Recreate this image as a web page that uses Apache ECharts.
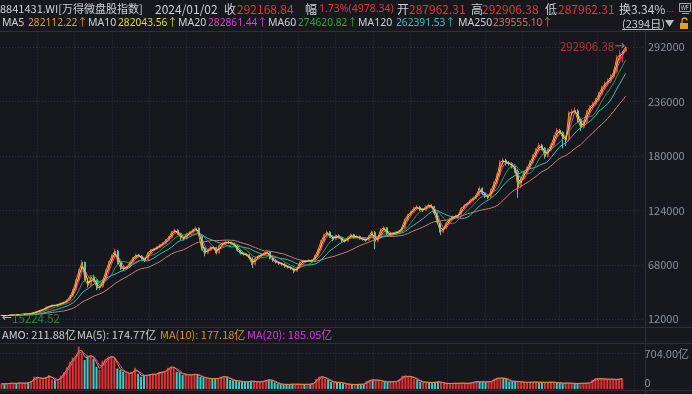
<!DOCTYPE html>
<html><head><meta charset="utf-8">
<script src="https://cdn.jsdelivr.net/npm/echarts@6/dist/echarts.min.js"></script>
<style>html,body{margin:0;padding:0;background:#16181d;}#c{width:692px;height:394px;}</style>
</head><body><div id="c"></div>
<script>
// ---- data (one candle ≈ 11 trading days of 8841431.WI) ----
const opens = [
15800,16000,15700,15900,16300,16600,16400,16900,17200,17600,
17400,18200,19000,20100,21300,22300,24400,25300,26500,26200,
27400,28500,29600,31700,35800,42600,52200,63000,70600,51200,
47200,55300,52100,44200,45300,52200,62800,70500,77200,82300,
71200,64600,64300,65700,70500,74900,78100,76800,74600,72800,
80200,83100,84200,86100,88200,90100,93200,96100,101900,103700,
100400,96300,95200,99600,101400,103500,105800,98600,85200,80100,
83200,86100,85800,80200,88100,90200,91300,91100,90200,88300,
83100,80200,79100,78200,74300,68300,75200,77100,78300,80100,
81200,75100,72600,70800,69500,68700,66500,65600,64400,61500,
64900,70600,71800,71600,72800,71600,77100,83800,92100,98400,
101800,97200,94100,98300,96200,93100,92400,96200,99100,96300,
97200,95100,94300,93200,97400,101500,92300,96200,104100,106300,
100200,99400,100300,101200,102400,106400,114200,119100,122200,126100,
127600,125100,124200,127700,129400,128100,121200,110600,101700,105800,
110900,115100,117200,118100,119200,126100,129200,131400,134600,136700,
140500,146800,141700,138600,137600,144800,152100,161000,173600,175700,
172600,172400,169500,164200,148100,157200,163100,167400,173600,179800,
186100,191200,188100,179800,186200,191100,199800,206600,204500,199100,
197400,224100,225200,226500,217200,209600,214800,225100,230200,233300,
237400,243600,249800,254100,257200,261300,267000,280700,284300,287962.31];
const closes = [
16000,15700,15900,16300,16600,16400,16900,17200,17600,17400,
18200,19200,20100,21300,22300,24400,25300,26500,26200,27400,
28500,29600,31700,35800,42100,52200,62300,70600,52400,47200,
55300,52100,44200,45300,52200,62100,70500,77200,82300,70400,
64600,64300,65700,70500,74900,78100,77200,74600,72800,80200,
83100,84200,86100,88200,90100,93200,96100,101500,103700,100400,
96300,95200,99600,101400,103500,105800,99400,85200,80100,83200,
86100,85800,80200,88100,90200,91300,91100,90200,88300,83100,
80200,79100,78200,75100,68300,75200,77100,78300,80100,81200,
75100,72600,70800,69500,68700,66500,65600,64400,61500,64600,
70600,71800,71600,72800,71600,77100,83200,92100,98400,101800,
97200,94100,98300,96200,93100,92400,96200,99100,96300,97200,
95100,94300,93200,97400,102100,92300,96200,104100,106300,100200,
99400,100300,101200,102400,105800,114200,119100,122200,126100,127600,
125100,124200,127700,129400,128100,121200,111800,101700,105800,110900,
115100,117200,118100,119200,126100,129200,131400,134600,136700,139700,
146800,141700,138600,137600,144800,152100,160200,173600,175700,172600,
172400,169500,165400,148100,157200,163100,167400,173600,179800,186100,
191200,188100,179800,186200,191100,199200,206600,204500,199100,196300,
224100,225200,227300,217200,209600,214800,225100,230200,233300,237400,
243600,249800,254100,257200,261300,266200,280700,284300,287190.5,292168.84];
const lows = [
15500,15224.52,15500,15700,16100,16000,16200,16700,17000,17000,
17200,18000,18900,19900,21000,22000,24000,25000,25600,25900,
27000,28100,29300,31400,35300,41600,51500,61000,50800,44800,
46500,50200,42000,41800,44600,51600,61200,69600,76100,68500,
62500,61800,63200,64900,69700,74000,75800,73200,71000,72100,
79400,82100,83300,85200,87100,89200,92100,95200,100300,99100,
93800,93100,94300,98500,100300,102400,98100,82900,76800,78900,
82100,84000,78800,79500,87000,89100,89700,88900,86900,81700,
78600,77600,76800,73600,64800,67400,74300,76000,77300,79000,
73600,71100,69500,68200,67300,65100,64200,63000,59400,60800,
64000,69800,70400,70900,70500,71000,76500,82500,91200,97300,
95800,92400,93200,95000,90800,91100,91500,95300,95100,95200,
93900,93000,91900,92400,96500,84000,91100,95400,103000,98800,
98000,98300,99300,100200,101600,105100,113200,118000,121200,124900,
123500,122400,123300,126600,126400,119600,109800,98600,100600,104900,
110000,114000,116000,116900,118400,125000,128000,130300,133400,135500,
138800,140000,136800,135600,136700,143800,151000,159200,171800,170500,
170200,167400,163000,137000,146800,156000,161800,166200,172400,178500,
184700,186000,177400,178600,185000,190000,198000,202300,188000,190500,
195200,221800,222900,214800,206000,208200,213600,223700,228500,231800,
236000,242100,248000,252000,255200,259800,265000,279000,276200,287962.31];
const highs = [
16300,16200,16200,16600,16900,16800,17200,17500,17900,17800,
18500,19500,20500,21700,22800,24900,25900,27000,27000,27900,
29100,30200,32300,36500,43200,53500,64000,73200,71400,54100,
57200,58000,53000,46900,53400,63300,72100,79000,84800,83400,
71300,66500,67400,71800,76200,79600,79300,78100,75400,81400,
84500,85600,87300,89600,91500,94600,97700,103000,105400,104600,
101200,97400,100800,102900,105100,107600,106700,100100,86300,84700,
87800,87500,86700,89300,91600,92800,92600,92000,91000,89100,
84000,81300,80100,79000,75900,76400,78300,79500,81300,82600,
82000,76000,73500,71700,70600,69500,67400,66300,65100,65500,
71700,72900,72800,73900,73600,78200,84500,93600,100100,103600,
102700,98100,99500,99300,97000,94200,97400,100400,100000,98500,
98100,96200,95100,98600,103500,103000,97500,105600,107800,107000,
101100,101500,102400,103600,107100,115600,120700,123800,127700,129400,
128500,126300,129100,131000,130300,128900,122000,112600,107100,112200,
116500,118700,119600,120700,127600,130800,133000,136300,138500,141600,
149000,147800,142600,139800,146400,153900,162200,176000,178200,177000,
174800,173600,170500,166300,158900,165000,169300,175600,182000,188300,
193600,192600,189100,188000,193000,201500,209000,208000,205500,200500,
226500,228300,230200,228300,218300,216900,227400,232600,235800,239900,
246200,252400,256900,260100,264300,269500,284000,289500,288600,292906.38];
// turnover amount, 亿
const amounts = [
105,98,112,118,108,115,122,110,118,125,
160,244,230,198,215,232,277,190,172,180,
265,330,430,540,620,660,838,706,574,660,
673,600,442,376,560,590,640,650,607,409,
380,343,310,300,343,420,300,244,277,270,
290,300,285,343,330,350,420,442,430,343,
330,277,290,270,285,300,277,240,224,210,
205,211,200,215,244,250,230,178,170,165,
150,145,140,150,160,145,138,145,150,178,
185,170,130,100,95,92,88,94,98,92,
96,90,94,92,98,120,200,244,250,200,
178,140,132,128,135,110,92,95,90,88,
95,92,100,160,178,185,170,178,150,145,
140,148,142,150,200,264,250,244,250,200,
178,140,132,135,128,132,135,145,125,112,
108,112,110,115,112,118,110,115,120,145,
150,140,145,138,145,160,205,224,211,215,
200,150,145,160,140,135,132,130,138,132,
140,128,135,130,132,138,130,125,118,112,
120,115,110,112,108,115,112,118,120,185,
211,200,205,195,190,198,192,185,200,211.88];
const priceTicks = {min: 12000, max: 292000, step: 56000};
const volTicks = {min: 0, max: 704};
const maNames = ['MA5','MA10','MA20','MA60','MA120','MA250'];
const maWindows = [1, 2, 3, 6, 11, 22];          // in candles
const maLegendValues = ['282112.22','282043.56','282861.44','274620.82','262391.53','239555.10'];
const volMaNames = ['MA(5)','MA(10)','MA(20)'];
const volMaLegendValues = ['174.77','177.18','185.05'];
const volMaWindows = [1, 2, 3];
const headerQuote = {code:'8841431.WI[万得微盘股指数]', date:'2024/01/02', close:'292168.84', chg:'1.73%(4978.34)',
  open:'287962.31', high:'292906.38', low:'287962.31', turn:'3.34%', amo:'211.88', days:'(2394日)'};

// ---- styling ----
const FONT = '"Noto Sans CJK SC","Noto Sans",sans-serif';
const FONTN = '"Noto Sans","Noto Sans CJK SC",sans-serif';
const BG = '#16181d';
const UP = '#e8302f', DOWN = '#3ecccc';
const maLineColors = ['#ee9a2a','#e4e42c','#e03ee0','#22a52a','#3dbdc4','#cc7a7a'];
const maTextColors = ['#e9982c','#dede2a','#dd3edd','#2aae2a','#3cc4c4','#de6a6e'];
const volMaColors = ['#d0d0d0','#e0921e','#d63fd6'];
const GRIDC = '#2c3038', LINEC = '#2e3138', LABELC = '#8d9199', TXT = '#cdd0d4', RED = '#dc3a3e';
const PAD = 6;

const cats = Array.from({length: closes.length + PAD}, (_, i) => String(i));
const ohlc = closes.map((c, i) => [opens[i], c, lows[i], highs[i]]);
function movingAverage(vals, win) {
  return vals.map((_, i) => {
    const s = Math.max(0, i - win + 1); let sum = 0;
    for (let j = s; j <= i; j++) sum += vals[j];
    return +(sum / (i - s + 1)).toFixed(2);
  });
}
const volData = amounts.map((v, i) => ({value: v, itemStyle: {color: closes[i] >= opens[i] ? UP : DOWN}}));
const hiMax = Math.max(...highs), hiIdx = highs.indexOf(hiMax);
const loMin = Math.min(...lows), loIdx = lows.indexOf(loMin);

function t(x, y, s, color, size, fam) {
  return {type: 'text', x: x, y: y, silent: true, z: 50,
    style: {text: s, fill: color, font: size + 'px ' + (fam || FONT), align: 'left', verticalAlign: 'middle',
            textAlign: 'left', textVerticalAlign: 'middle'}};
}
function hl(y, x1, x2) { return {type:'line', silent:true, shape:{x1:x1, y1:y, x2:x2, y2:y}, style:{stroke:LINEC, lineWidth:1}}; }

const graphics = [
  hl(31.5, 0, 692), hl(327.5, 0, 692), hl(343.5, 0, 692), hl(390.5, 0, 692),
  {type:'line', silent:true, shape:{x1:645.5, y1:31, x2:645.5, y2:394}, style:{stroke:LINEC, lineWidth:1}},
  t(0, 9, headerQuote.code, TXT, 11),
  t(155, 9, headerQuote.date, TXT, 12),
  t(224, 9, '收', TXT, 12), t(237, 9, headerQuote.close, RED, 12),
  t(305, 9, '幅', TXT, 12), t(319, 9, headerQuote.chg, RED, 10.5, FONTN),
  t(397, 9, '开', TXT, 12), t(409, 9, headerQuote.open, RED, 12),
  t(471, 9, '高', TXT, 12), t(482, 9, headerQuote.high, RED, 12),
  t(545, 9, '低', TXT, 12), t(558, 9, headerQuote.low, RED, 12),
  t(619, 9, '换', TXT, 12), t(631, 9, headerQuote.turn, TXT, 12), t(666, 8, '...', RED, 10),
  {type:'rect', silent:true, shape:{x:679.5, y:3.5, width:11, height:8}, style:{stroke:'#a8a8a8', fill:'none', lineWidth:1}},
  t(681, 7.6, 'WF', '#cfcfcf', 5.5),
  {type:'line', silent:true, shape:{x1:682, y1:13.5, x2:689, y2:13.5}, style:{stroke:'#a8a8a8', lineWidth:1}},
  t(622, 23.5, headerQuote.days, TXT, 11),
  {type:'line', silent:true, shape:{x1:622, y1:29.5, x2:662, y2:29.5}, style:{stroke:'#bdbdbd', lineWidth:1}},
  {type:'polygon', silent:true, shape:{points:[[665,20],[674,20],[669.5,27]]}, style:{fill:'#b8b8b8'}},
  {type:'rect', silent:true, shape:{x:680, y:23, width:8, height:6}, style:{fill:'#e8a020'}},
  {type:'arc', silent:true, shape:{cx:684.5, cy:20.5, r:2.5, startAngle:Math.PI, endAngle:2*Math.PI, clockwise:true}, style:{stroke:'#e8a020', fill:'none', lineWidth:1.3}},
  {type:'line', silent:true, shape:{x1:682, y1:20.5, x2:682, y2:23}, style:{stroke:'#e8a020', lineWidth:1.3}},
  t(2, 335, 'AMO: ' + headerQuote.amo + '亿', TXT, 11)
];
const maX = [[2,28],[88,118],[178,208],[268,298],[358,396],[458,493]];
maNames.forEach((n, k) => {
  graphics.push(t(maX[k][0], 23.5, n, TXT, 10.5, FONTN));
  graphics.push(t(maX[k][1], 23.5, maLegendValues[k] + '↑', maTextColors[k], 10.2, FONTN));
});
const volLegX = [77, 160, 247];
const volLegColors = [TXT, '#e0921e', '#d63fd6'];
volMaNames.forEach((n, k) => graphics.push(t(volLegX[k], 335, n + ': ' + volMaLegendValues[k] + '亿', volLegColors[k], 11)));

const vGrid = {type:'value', min:0, max:645, interval:37.3, axisLine:{show:false}, axisTick:{show:false}, axisLabel:{show:false},
  splitLine:{show:true, showMinLine:false, showMaxLine:false, lineStyle:{color:GRIDC, type:[1,2]}}};

const series = [{
  type:'candlestick', xAxisIndex:0, yAxisIndex:0, data:ohlc, barMaxWidth:2, clip:false, z:2,
  itemStyle:{color:UP, color0:DOWN, borderColor:UP, borderColor0:DOWN, borderWidth:1}
}, {
  type:'scatter', xAxisIndex:0, yAxisIndex:0, symbolSize:1, z:20, clip:false, silent:true,
  itemStyle:{color:'rgba(0,0,0,0)'},
  data:[
    {value:[cats[hiIdx], hiMax], label:{show:true, position:'left', distance:0,
      formatter: p => '{v|' + p.value[1].toFixed(2) + '}{a|→}',
      rich:{v:{color:RED, fontSize:11.5, fontFamily:FONT}, a:{color:'#9a9a9a', fontSize:13, fontFamily:'DejaVu Sans'}}}},
    {value:[cats[loIdx], loMin], label:{show:true, position:'right', distance:0, offset:[-3,2],
      formatter: p => '{a|←}{v|' + p.value[1].toFixed(2) + '}',
      rich:{v:{color:'#22a84a', fontSize:11.5, fontFamily:FONT}, a:{color:'#cfcfcf', fontSize:12, fontFamily:'DejaVu Sans'}}}}
  ]
}];
const order = [5, 4, 3, 2, 0, 1];
order.forEach(k => series.push({type:'line', name:maNames[k], xAxisIndex:0, yAxisIndex:0, data:movingAverage(closes, maWindows[k]),
  symbol:'none', clip:false, z:3 + (k < 3 ? 1 : 0), lineStyle:{width:1, color:maLineColors[k]}, itemStyle:{color:maLineColors[k]}}));
series.push({type:'bar', xAxisIndex:2, yAxisIndex:2, data:volData, barWidth:2, clip:false});
[2, 1].forEach(k => series.push({type:'line', xAxisIndex:2, yAxisIndex:2, data:movingAverage(amounts, volMaWindows[k]),
  symbol:'none', clip:false, lineStyle:{width:1, color:volMaColors[k]}}));

const chart = echarts.init(document.getElementById('c'), null, {renderer:'canvas'});
chart.setOption({
  backgroundColor: BG, animation:false,
  textStyle:{fontFamily:FONT},
  grid:[
    {left:0, right:47, top:47.3, height:272},
    {left:0, right:47, top:31.5, height:296},
    {left:0, right:47, top:353.5, height:35.5},
    {left:0, right:47, top:343.5, height:46}
  ],
  xAxis:[
    {type:'category', gridIndex:0, data:cats, boundaryGap:true, show:false},
    Object.assign({gridIndex:1}, vGrid),
    {type:'category', gridIndex:2, data:cats, boundaryGap:true, show:false},
    Object.assign({gridIndex:3}, vGrid)
  ],
  yAxis:[
    {type:'value', gridIndex:0, position:'right', min:priceTicks.min, max:priceTicks.max, interval:priceTicks.step,
      axisLine:{show:false}, axisTick:{show:false},
      axisLabel:{color:LABELC, fontSize:11, margin:3, fontFamily:FONT, formatter: v => String(v)},
      splitLine:{show:true, lineStyle:{color:GRIDC, type:[1,2]}}},
    {type:'value', gridIndex:1, min:0, max:1, show:false},
    {type:'value', gridIndex:2, position:'right', min:volTicks.min, max:volTicks.max, interval:volTicks.max,
      axisLine:{show:false}, axisTick:{show:false},
      axisLabel:{color:LABELC, fontSize:11, margin:3, fontFamily:FONT,
        formatter: v => v === 0 ? '{z|0}' : '{t|' + v.toFixed(2) + '亿}',
        rich:{z:{padding:[0,0,12,0], color:LABELC, fontSize:11}, t:{color:LABELC, fontSize:11}}},
      splitLine:{show:true, showMinLine:false, lineStyle:{color:GRIDC, type:[1,2]}}},
    {type:'value', gridIndex:3, min:0, max:1, show:false}
  ],
  graphic: graphics,
  series: series
});
</script></body></html>
